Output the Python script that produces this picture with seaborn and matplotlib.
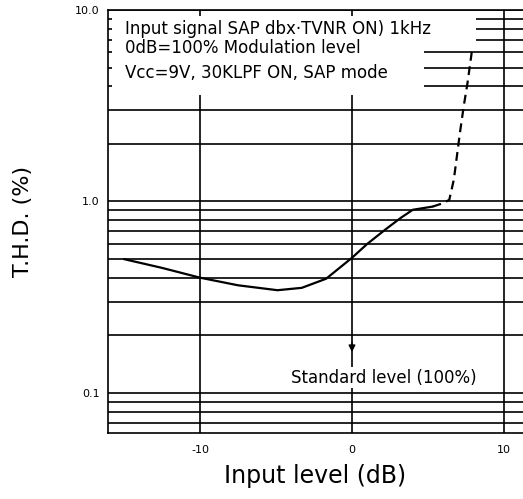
import numpy as np
import pandas as pd
import matplotlib
matplotlib.use("Agg")
import matplotlib.pyplot as plt
import seaborn as sns
from matplotlib.patches import Rectangle
from matplotlib.ticker import FixedLocator, LogLocator, NullFormatter

# Style
sns.set_style("white")
plt.rcParams['font.family'] = ['DejaVu Sans']
plt.rcParams.update({'text.color': 'black', 'axes.labelcolor': 'black',
                     'xtick.color': 'black', 'ytick.color': 'black'})

# Data
x_solid = [-15, -12.5, -10, -7.5, -4.9, -3.3, -1.7, 0, 1, 2.2, 3.2, 4.0, 5.3]
y_solid = [0.50, 0.45, 0.40, 0.365, 0.344, 0.354, 0.395, 0.508, 0.60, 0.714, 0.82, 0.905, 0.94]
x_dash = [5.3, 6.0, 6.4, 6.7, 6.9, 7.1, 7.35, 7.6, 7.9]
y_dash = [0.94, 0.98, 1.02, 1.30, 1.72, 2.28, 3.14, 4.16, 6.2]

x_ticks = [-10, 0, 10]
x_tick_labels = ["-10", "0", "10"]
y_ticks = [0.1, 1.0, 10.0]
y_tick_labels = ["0.1", "1.0", "10.0"]

notes = ["Input signal SAP dbx\u00b7TVNR ON) 1kHz",
         "0dB=100% Modulation level",
         "Vcc=9V, 30KLPF ON, SAP mode"]
note_y = [8.0, 6.3, 4.7]

solid = pd.DataFrame({"x": x_solid, "y": y_solid})
dash = pd.DataFrame({"x": x_dash, "y": y_dash})

fig = plt.figure(figsize=(5.23, 4.99), dpi=100)
ax = fig.add_axes([0.2065, 0.1323, 0.7935, 0.8477])
ax.set_yscale("log")
ax.set_xlim(-16.05, 11.25)
ax.set_ylim(0.0618, 10.0)

# grid: vertical at -10/0/10, horizontal at every log tick
ax.xaxis.set_major_locator(FixedLocator(x_ticks))
ax.set_xticklabels(x_tick_labels, fontsize=8)
ax.yaxis.set_major_locator(FixedLocator(y_ticks))
ax.yaxis.set_minor_locator(LogLocator(base=10, subs=np.arange(2, 10)))
ax.yaxis.set_minor_formatter(NullFormatter())
ax.set_yticklabels(y_tick_labels, fontsize=8)
ax.grid(True, which="both", axis="y", color="black", linewidth=1.2)
ax.grid(True, which="major", axis="x", color="black", linewidth=1.2)
ax.tick_params(which="both", length=0, pad=6)
ax.tick_params(axis="x", pad=9)

for side in ["left", "top", "bottom"]:
    ax.spines[side].set_color("black")
    ax.spines[side].set_linewidth(1.2)
ax.spines["right"].set_visible(False)

# white panel behind the notes (hides the grid, stepped like the original)
ax.add_patch(Rectangle((-15.8, 6.6), 8.14 + 15.8, 9.3 - 6.6, facecolor="white",
                       edgecolor="none", zorder=1.5))
ax.add_patch(Rectangle((-15.8, 3.6), 4.72 + 15.8, 6.6 - 3.6, facecolor="white",
                       edgecolor="none", zorder=1.5))

sns.lineplot(data=solid, x="x", y="y", ax=ax, color="black", linewidth=1.6, sort=False, zorder=3)
sns.lineplot(data=dash, x="x", y="y", ax=ax, color="black", linewidth=1.6,
             linestyle=(0, (4, 2.5)), sort=False, zorder=3)

for txt, yy in zip(notes, note_y):
    ax.text(-14.9, yy, txt, fontsize=12, va="center", ha="left", zorder=5)

ax.annotate("", xy=(0, 0.158), xytext=(0, 0.19),
            arrowprops=dict(arrowstyle="-|>", color="black", lw=1.0, mutation_scale=10))
ax.text(2.1, 0.12, "Standard level (100%)", fontsize=12, ha="center", va="center",
        bbox=dict(facecolor="white", edgecolor="none", pad=1))

ax.set_xlabel("Input level (dB)", fontsize=17, labelpad=6)
ax.set_ylabel("T.H.D. (%)", fontsize=16, labelpad=30)

fig.savefig("out.png", dpi=100)
